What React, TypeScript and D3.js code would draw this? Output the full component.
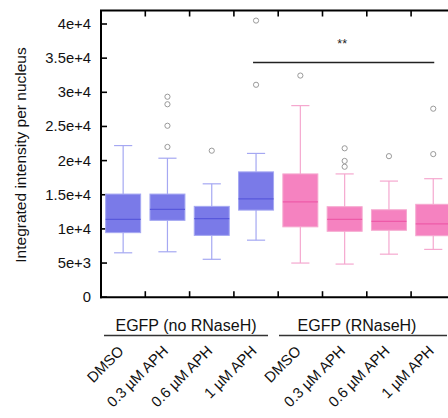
import React from 'react'
import * as d3 from 'd3'

const categories = [
  'DMSO', '0.3 µM APH', '0.6 µM APH', '1 µM APH',
  'DMSO', '0.3 µM APH', '0.6 µM APH', '1 µM APH'
]
const groups = ['EGFP (no RNaseH)', 'EGFP (RNaseH)']
// [low whisker, q1, median, q3, high whisker]
const boxStats = [
  [6500, 9450, 11400, 15100, 22200],
  [6650, 11250, 12850, 15100, 20350],
  [5550, 9050, 11500, 13300, 16600],
  [8350, 12750, 14400, 18350, 21050],
  [5000, 10300, 13950, 18050, 28050],
  [4850, 9650, 11400, 13250, 18050],
  [6300, 9800, 11100, 12800, 17000],
  [7000, 9000, 10750, 13600, 17350]
]
const outliers = [
  [],
  [29350, 28250, 25100, 22000],
  [21450],
  [40500, 31100],
  [32450],
  [21800, 19950, 19100],
  [20650],
  [27600, 20950]
]
const yTicks = [0, 5000, 10000, 15000, 20000, 25000, 30000, 35000, 40000]
const yTickLabels = ['0', '5e+3', '1e+4', '1.5e+4', '2e+4', '2.5e+4', '3e+4', '3.5e+4', '4e+4']

const W = 448
const H = 418
const left = 101
const top = 10.5
const bottom = 297.2
const bandW = 44.3

const font = '"Liberation Sans", Arial, sans-serif'

const App = () => {
  const x = d3.scaleBand<number>()
    .domain(d3.range(categories.length))
    .range([left, left + bandW * categories.length])
    .padding(0)
  const y = d3.scaleLinear().domain([0, 40000]).range([bottom, 24])

  const boxW = x.bandwidth() * 0.79
  const capW = x.bandwidth() * 0.41
  const palette = [
    { fill: '#7a7ae8', edge: '#a5a8f2', mid: '#5858dc' },
    { fill: '#f582c0', edge: '#f5a8cf', mid: '#ee5aa8' }
  ]
  const mid = (i: number) => x(i)! + x.bandwidth() / 2

  // group label centres / underline extents
  const groupCenters = [186, 357]
  const groupLines = [[104, 268], [279, 447]]

  return (
    <svg width={W} height={H} style={{ position: 'absolute', left: 0, top: 0 }} fontFamily={font}>
      {/* y axis label */}
      <text transform={`translate(26,155) rotate(-90)`} textAnchor="middle" fontSize={15.5} fill="#111">
        Integrated intensity per nucleus
      </text>

      {/* y ticks */}
      {yTicks.map((t, i) => (
        <g key={t}>
          <line x1={left} x2={left + 6} y1={y(t)} y2={y(t)} stroke="#000" strokeWidth={1.6} />
          <text x={91} y={y(t) + 5} textAnchor="end" fontSize={14.8} fill="#111">{yTickLabels[i]}</text>
        </g>
      ))}

      {/* boxes */}
      {boxStats.map((s, i) => {
        const c = palette[i < 4 ? 0 : 1]
        const cx = mid(i)
        const [lo, q1, med, q3, hi] = s
        return (
          <g key={i}>
            <line x1={cx} x2={cx} y1={y(hi)} y2={y(q3)} stroke={c.edge} strokeWidth={1.2} />
            <line x1={cx} x2={cx} y1={y(q1)} y2={y(lo)} stroke={c.edge} strokeWidth={1.2} />
            <line x1={cx - capW / 2} x2={cx + capW / 2} y1={y(hi)} y2={y(hi)} stroke={c.edge} strokeWidth={1.2} />
            <line x1={cx - capW / 2} x2={cx + capW / 2} y1={y(lo)} y2={y(lo)} stroke={c.edge} strokeWidth={1.2} />
            <rect x={cx - boxW / 2} y={y(q3)} width={boxW} height={y(q1) - y(q3)}
              fill={c.fill} stroke={c.edge} strokeWidth={1} />
            <line x1={cx - boxW / 2} x2={cx + boxW / 2} y1={y(med)} y2={y(med)} stroke={c.mid} strokeWidth={1.3} />
            {outliers[i].map((o, j) => (
              <circle key={j} cx={cx} cy={y(o)} r={2.6} fill="none" stroke="#9a9a9a" strokeWidth={1} />
            ))}
          </g>
        )
      })}

      {/* frame */}
      <line x1={left} x2={left} y1={top} y2={bottom + 1} stroke="#000" strokeWidth={2} />
      <line x1={left - 1} x2={W} y1={top} y2={top} stroke="#000" strokeWidth={2} />
      <line x1={left - 1} x2={W} y1={bottom} y2={bottom} stroke="#000" strokeWidth={2} />
      {d3.range(1, categories.length).map(i => (
        <g key={i}>
          <line x1={x(i)!} x2={x(i)!} y1={top} y2={top + 6} stroke="#000" strokeWidth={1.6} />
          <line x1={x(i)!} x2={x(i)!} y1={bottom} y2={bottom - 6} stroke="#000" strokeWidth={1.6} />
        </g>
      ))}

      {/* significance */}
      <line x1={mid(3) - 3} x2={mid(7) + 1} y1={62.5} y2={62.5} stroke="#222" strokeWidth={1.4} />
      <text x={mid(5) - 2.5} y={48} textAnchor="middle" fontSize={12.5} fill="#222">**</text>

      {/* group labels */}
      {groups.map((g, gi) => (
        <g key={g}>
          <text x={groupCenters[gi]} y={331} textAnchor="middle" fontSize={16} fill="#111">{g}</text>
          <line x1={groupLines[gi][0]} x2={groupLines[gi][1]} y1={335.5} y2={335.5} stroke="#333" strokeWidth={1.4} />
        </g>
      ))}

      {/* category labels */}
      {categories.map((c, i) => (
        <text key={i} transform={`translate(${mid(i) + 1.5},352) rotate(-45)`} textAnchor="end" fontSize={14.8} fill="#111">
          {c}
        </text>
      ))}
    </svg>
  )
}

export default App
